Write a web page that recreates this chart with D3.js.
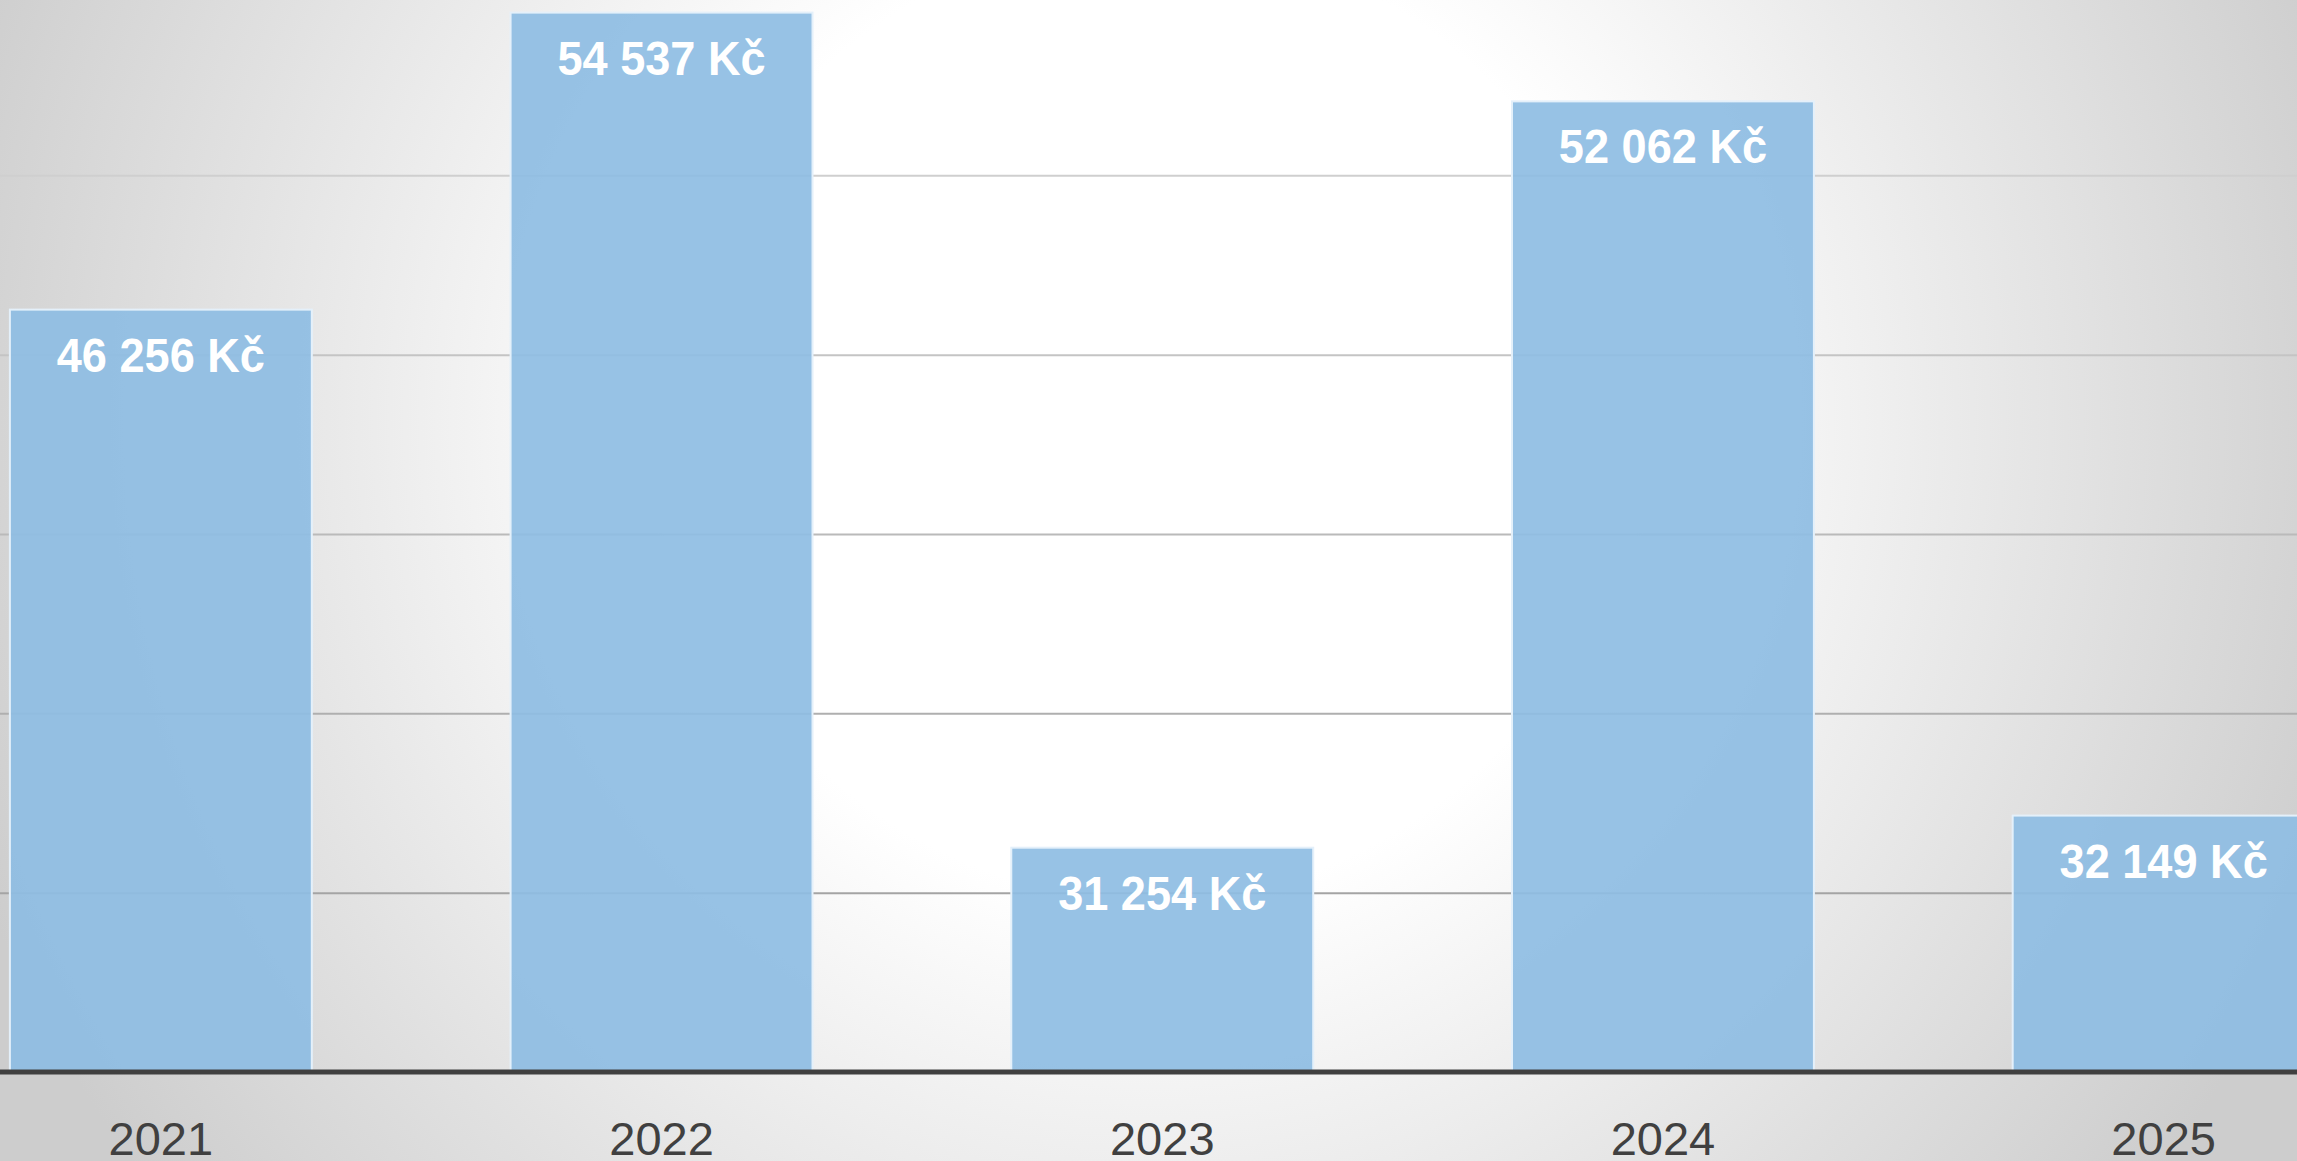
<!DOCTYPE html>
<html>
<head>
<meta charset="utf-8">
<script src="https://cdn.jsdelivr.net/npm/d3@7"></script>
<style>
  html, body { margin: 0; padding: 0; overflow: hidden; }
  svg { display: block; }
</style>
</head>
<body>
<svg id="chart" width="2297" height="1161"></svg>
<script>

// data
var years = ["2021", "2022", "2023", "2024", "2025"];
var amounts = [46256, 54537, 31254, 52062, 32149];
var gridValues = [30000, 35000, 40000, 45000, 50000];
var yDomain = [25000, 55000];

const svg = d3.select("#chart"),
  width = +svg.attr("width"),
  height = +svg.attr("height");

// background radial gradient
const defs = svg.append("defs");
const grad = defs.append("radialGradient")
    .attr("id", "bg")
    .attr("gradientUnits", "userSpaceOnUse")
    .attr("cx", 1150).attr("cy", 420).attr("r", 1260);
grad.append("stop").attr("offset", "0%").attr("stop-color", "#ffffff");
grad.append("stop").attr("offset", "38%").attr("stop-color", "#ffffff");
grad.append("stop").attr("offset", "100%").attr("stop-color", "#cdcdcd");

svg.append("rect")
  .attr("width", width)
  .attr("height", height)
  .attr("fill", "url(#bg)");

const baseY = 1072;

const x = d3.scaleBand()
  .domain(years)
  .range([-89.5, 2414])
  .paddingInner(0.397)
  .paddingOuter(0.1985);

const y = d3.scaleLinear()
  .domain(yDomain)
  .range([baseY, -4]);

// gridlines
const gridColor = d3.scaleLinear()
  .domain([0, baseY])
  .range(["#dadada", "#999999"]);

const grid = svg.append("g")
  .attr("class", "grid")
  .call(d3.axisLeft(y).tickValues(gridValues).tickSize(-width).tickFormat(""));
grid.select(".domain").remove();
grid.selectAll(".tick line")
  .attr("stroke", d => gridColor(y(d)))
  .attr("stroke-width", 2);

// bars
const bars = svg.append("g")
  .selectAll("rect")
  .data(years)
  .enter().append("rect")
    .attr("x", d => x(d))
    .attr("y", (d, i) => y(amounts[i]))
    .attr("width", x.bandwidth())
    .attr("height", (d, i) => baseY - y(amounts[i]))
    .attr("fill", "#8ebde3")
    .attr("fill-opacity", 0.92)
    .attr("stroke", "#e4f0fa")
    .attr("stroke-width", 2);

// value labels
svg.append("g")
  .selectAll("text")
  .data(years)
  .enter().append("text")
    .attr("transform", (d, i) => "translate(" + (x(d) + x.bandwidth() / 2) + "," + (y(amounts[i]) + 62) + ") scale(0.94,1)")
    .attr("text-anchor", "middle")
    .style("font-family", "'Liberation Sans', Arial, sans-serif")
    .style("font-weight", "bold")
    .style("font-size", "48px")
    .attr("fill", "#ffffff")
    .text((d, i) => d3.format(",")(amounts[i]).replace(/,/g, " ") + " Kč");

// baseline
svg.append("line")
  .attr("x1", 0).attr("x2", width)
  .attr("y1", baseY).attr("y2", baseY)
  .attr("stroke", "#404040")
  .attr("stroke-width", 5);

// x axis labels
const xAxis = svg.append("g")
  .attr("transform", "translate(0," + baseY + ")")
  .call(d3.axisBottom(x).tickSize(0).tickPadding(0));
xAxis.select(".domain").remove();
xAxis.selectAll("text")
  .attr("dy", null)
  .attr("y", 83)
  .attr("fill", "#404040")
  .style("font-family", "'Liberation Sans', Arial, sans-serif")
  .style("font-size", "47px");

</script>
</body>
</html>
